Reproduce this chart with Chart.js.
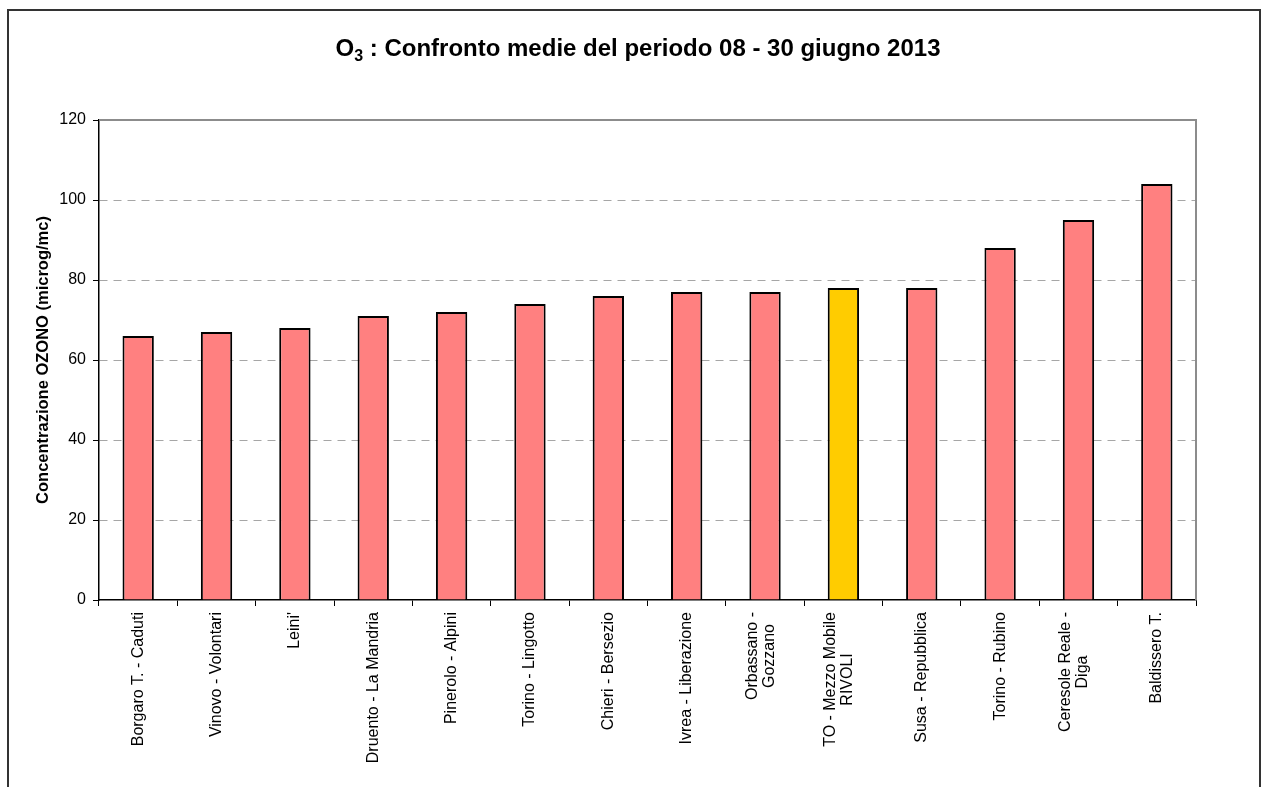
<!DOCTYPE html>
<html>
<head>
<meta charset="utf-8">
<title>O3 - Confronto medie</title>
<script src="https://cdn.jsdelivr.net/npm/chart.js@4.4.0/dist/chart.umd.min.js"></script>
<style>
  html, body { margin: 0; padding: 0; background: #fff; overflow: hidden; }
  #wrap  { position: relative; width: 1268px; height: 787px; }
  #frame { position: absolute; left: 7px; top: 9px; width: 1250px; height: 820px;
           border: 2px solid #333; pointer-events: none; }
</style>
</head>
<body>
<div id="wrap">
  <canvas id="c"></canvas>
  <div id="frame"></div>
</div>
<script>
/* ── Data ───────────────────────────────────────────── */
const stations = [
    'Borgaro T. - Caduti',
    'Vinovo - Volontari',
    "Leini'",
    'Druento - La Mandria',
    'Pinerolo - Alpini',
    'Torino - Lingotto',
    'Chieri - Bersezio',
    'Ivrea - Liberazione',
    ['Orbassano -', 'Gozzano'],
    ['TO - Mezzo Mobile', 'RIVOLI'],
    'Susa - Repubblica',
    'Torino - Rubino',
    ['Ceresole Reale -', 'Diga'],
    'Baldissero T.',
];
const ozoneMean = [66, 67, 68, 71, 72, 74, 76, 77, 77, 78, 78, 88, 95, 104];
const yTicks    = [0, 20, 40, 60, 80, 100, 120];
const highlightStation = 'TO - Mezzo Mobile RIVOLI';

const FONT   = '"Liberation Sans", Arial, sans-serif';
const SALMON = '#FF8080';
const YELLOW = '#FFCC00';

const labelText = l => Array.isArray(l) ? l.join(' ') : l;

/* ── Title with subscript ───────────────────────────── */
const titlePlugin = {
    id: 'titleO3',
    afterDraw(chart) {
        const ctx   = chart.ctx;
        const big   = 'bold 24px ' + FONT;
        const small = 'bold 16px ' + FONT;
        const parts = [
            { t: 'O', f: big, dy: 0 },
            { t: '3', f: small, dy: 5 },
            { t: ' : Confronto medie del periodo 08 - 30 giugno 2013', f: big, dy: 0 },
        ];
        ctx.save();
        let total = 0;
        parts.forEach(p => { ctx.font = p.f; p.w = ctx.measureText(p.t).width; total += p.w; });
        let x = 638 - total / 2;
        ctx.fillStyle = '#000';
        ctx.textBaseline = 'alphabetic';
        parts.forEach(p => { ctx.font = p.f; ctx.fillText(p.t, x, 56 + p.dy); x += p.w; });
        ctx.restore();
    },
};

/* ── Gray plot frame (top + right) ──────────────────── */
const plotFrame = {
    id: 'plotFrame',
    beforeDatasetsDraw(chart) {
        const { ctx, chartArea: a } = chart;
        ctx.save();
        ctx.strokeStyle = '#8c8c8c';
        ctx.lineWidth = 2;
        ctx.beginPath();
        ctx.moveTo(a.left, a.top);
        ctx.lineTo(a.right, a.top);
        ctx.lineTo(a.right, a.bottom);
        ctx.stroke();
        ctx.restore();
    },
};

/* ── Rotated category labels, lines centred ─────────── */
const xLabels = {
    id: 'xLabels',
    afterDraw(chart) {
        const ctx = chart.ctx;
        const xs  = chart.scales.x;
        const top = chart.chartArea.bottom + 12;
        const lh  = 17;
        ctx.save();
        ctx.font = '16px ' + FONT;
        ctx.fillStyle = '#000';
        ctx.textAlign = 'center';
        ctx.textBaseline = 'middle';
        chart.data.labels.forEach((lab, i) => {
            const lines = Array.isArray(lab) ? lab : [lab];
            const px    = xs.getPixelForValue(i) - (lines.length > 1 ? 4 : 0);
            const maxW  = Math.max(...lines.map(l => ctx.measureText(l).width));
            lines.forEach((line, j) => {
                ctx.save();
                ctx.translate(px + (j - (lines.length - 1) / 2) * lh, top + maxW / 2);
                ctx.rotate(-Math.PI / 2);
                ctx.fillText(line, 0, 0);
                ctx.restore();
            });
        });
        ctx.restore();
    },
};

new Chart(document.getElementById('c'), {
    type: 'bar',
    data: {
        labels: stations,
        datasets: [{
            data: ozoneMean,
            backgroundColor: ctx => labelText(stations[ctx.dataIndex]) === highlightStation ? YELLOW : SALMON,
            borderColor: '#000',
            borderWidth: 2,
            barPercentage: 0.4,
            categoryPercentage: 1,
        }],
    },
    options: {
        responsive: true,
        maintainAspectRatio: false,
        animation: false,
        layout: { padding: { top: 120, right: 72, left: 0, bottom: 0 } },
        plugins: {
            legend: { display: false },
            tooltip: { enabled: false },
            title: { display: false },
        },
        scales: {
            x: {
                grid: {
                    offset: true,
                    drawOnChartArea: false,
                    drawTicks: true,
                    tickLength: 6,
                    color: '#000',
                },
                border: { color: '#000', width: 1.5 },
                ticks: { display: false },
                afterFit: s => { s.height = 187; },
            },
            y: {
                min: yTicks[0],
                max: yTicks[yTicks.length - 1],
                afterBuildTicks: s => { s.ticks = yTicks.map(v => ({ value: v })); },
                ticks: {
                    color: '#000',
                    padding: 7,
                    font: { family: FONT, size: 16 },
                },
                grid: {
                    color: c => (c.tick && (c.tick.value === 0 || c.tick.value === 120)) ? 'transparent' : '#a6a6a6',
                    lineWidth: 1,
                    drawTicks: true,
                    tickLength: 6,
                    tickColor: '#000',
                },
                border: { display: true, color: '#000', width: 1.5, dash: [8, 6] },
                title: {
                    display: true,
                    text: 'Concentrazione OZONO (microg/mc)',
                    color: '#000',
                    font: { family: FONT, size: 16.5, weight: 'bold' },
                    padding: { top: 34, bottom: 0 },
                },
                afterFit: s => { s.width = 99; },
            },
        },
    },
    plugins: [plotFrame, xLabels, titlePlugin],
});
</script>
</body>
</html>
